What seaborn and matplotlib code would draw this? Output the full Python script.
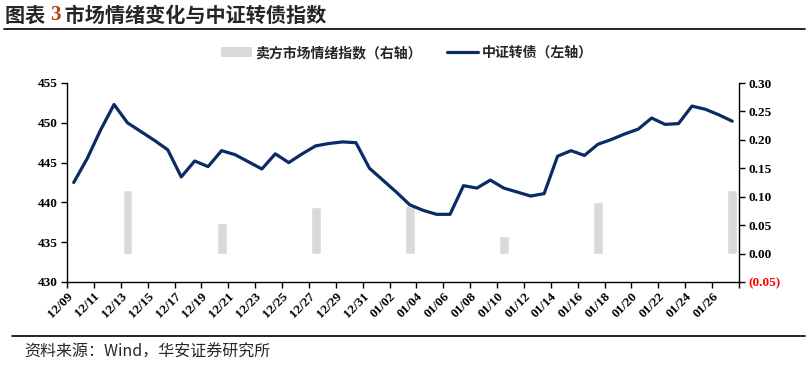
import matplotlib
matplotlib.use("Agg")
import matplotlib.pyplot as plt
import seaborn as sns
import pandas as pd
from matplotlib.patches import Patch
from matplotlib.lines import Line2D

# ---------------- data ----------------
dates = list(pd.date_range("2024-12-09", "2025-01-27").strftime("%m/%d"))
cb_index = [442.5, 445.5, 449.1, 452.3, 450.0, 448.9, 447.8, 446.6, 443.2, 445.2,
            444.5, 446.5, 446.0, 445.1, 444.2, 446.1, 445.0, 446.1, 447.1, 447.4,
            447.6, 447.5, 444.3, 442.8, 441.3, 439.7, 439.0, 438.5, 438.5, 442.1,
            441.8, 442.8, 441.8, 441.3, 440.8, 441.1, 445.8, 446.5, 445.9, 447.3,
            447.9, 448.6, 449.2, 450.6, 449.8, 449.9, 452.1, 451.7, 451.0, 450.2]
bar_dates = ["12/13", "12/20", "12/27", "01/03", "01/10", "01/17", "01/27"]
sentiment = [0.112, 0.053, 0.082, 0.083, 0.031, 0.090, 0.111]
left_ticks = [430, 435, 440, 445, 450, 455]
right_ticks = [-0.05, 0.0, 0.05, 0.10, 0.15, 0.20, 0.25, 0.30]
right_labels = ["(0.05)", "0.00", "0.05", "0.10", "0.15", "0.20", "0.25", "0.30"]

title_a = "图表 "
title_num = "3"
title_b = " 市场情绪变化与中证转债指数"
bar_name = "卖方市场情绪指数（右轴）"
line_name = "中证转债（左轴）"
source = "资料来源：Wind，华安证券研究所"

LINE_C = "#0B2A66"
BAR_C = "#D9D9D9"

sns.set_theme(style="white")
plt.rcParams["font.family"] = ["Liberation Serif", "Noto Sans CJK SC"]

fig = plt.figure(figsize=(8.09, 3.65), dpi=100)
ax = fig.add_axes([67 / 809, 1 - 282 / 365, (739 - 67) / 809, (282 - 83) / 365])

bar_df = pd.DataFrame({"date": bar_dates, "val": sentiment})
sns.barplot(data=bar_df, x="date", y="val", order=dates, color=BAR_C,
            width=0.74, saturation=1, ax=ax)
ax.set_xlabel("")
ax.set_ylabel("")

ax2 = ax.twinx()
line_df = pd.DataFrame({"x": range(len(dates)), "v": cb_index})
sns.lineplot(data=line_df, x="x", y="v", color=LINE_C, linewidth=2.3, ax=ax2,
             solid_joinstyle="round", solid_capstyle="round")
ax2.set_xlabel("")
ax2.set_ylabel("")

# right axis (bars)
ax.set_ylim(-0.05, 0.30)
ax.yaxis.tick_right()
ax.yaxis.set_label_position("right")
ax.set_yticks(right_ticks)
ax.set_yticklabels(right_labels, fontweight="bold", fontsize=9.5)
ax.tick_params(axis="y", which="both", right=True, left=False, labelright=True,
               labelleft=False, length=4, width=1, direction="out",
               colors="black", pad=3)

# left axis (line)
ax2.set_ylim(430, 455)
ax2.yaxis.tick_left()
ax2.yaxis.set_label_position("left")
ax2.set_yticks(left_ticks)
ax2.set_yticklabels([str(t) for t in left_ticks], fontweight="bold", fontsize=9.5)
ax2.tick_params(axis="y", left=True, right=False, labelleft=True, labelright=False,
                length=4, width=1, direction="out", colors="black", pad=3)

for lbl in ax.get_yticklabels():
    if lbl.get_text().startswith("("):
        lbl.set_color("#FF0000")

ax.set_xlim(-0.5, len(dates) - 0.5)
ticks = [i - 0.5 for i in range(0, len(dates) + 1, 2)]
ax.set_xticks(ticks)
ax.set_xticklabels([dates[int(t + 0.5)] if int(t + 0.5) < len(dates) - 1 else "" for t in ticks],
                   rotation=45, ha="right", rotation_mode="anchor",
                   fontweight="bold", fontsize=9.5)
ax.tick_params(axis="x", bottom=True, length=4, width=1, direction="out",
               colors="black", pad=2)
ax2.tick_params(axis="x", bottom=False, labelbottom=False)

for a in (ax, ax2):
    for s in a.spines.values():
        s.set_visible(False)
    a.grid(False)
for side in ("left", "right", "bottom"):
    ax2.spines[side].set_visible(True)
    ax2.spines[side].set_color("black")
    ax2.spines[side].set_linewidth(1.0)

# legend
handles = [Patch(facecolor=BAR_C, edgecolor="none"),
           Line2D([0], [0], color=LINE_C, linewidth=2.3)]
fig.legend(handles, [bar_name, line_name], loc="center", ncol=2,
           bbox_to_anchor=(0.503, 1 - 53 / 365), frameon=False,
           prop={"family": ["Noto Sans CJK SC"], "weight": "bold", "size": 10},
           handlelength=2.2, handletextpad=0.3, columnspacing=1.8)

# title
ty = 1 - 15 / 365
t1 = fig.text(0.006, ty, title_a, fontsize=14.5, fontweight="bold",
              family=["Noto Sans CJK SC"], va="center", ha="left")
fig.canvas.draw()
x3 = t1.get_window_extent().x1 / fig.bbox.width
t3 = fig.text(x3, ty, title_num, fontsize=15, fontweight="bold",
              family=["Liberation Serif"], color="#A8440E", va="center", ha="left")
fig.canvas.draw()
fig.text(t3.get_window_extent().x1 / fig.bbox.width, ty, title_b,
         fontsize=14.5, fontweight="bold", family=["Noto Sans CJK SC"],
         va="center", ha="left")

fig.add_artist(Line2D([4 / 809, 805 / 809], [1 - 29 / 365, 1 - 29 / 365],
                      color="black", linewidth=1.2))
fig.add_artist(Line2D([12 / 809, 805 / 809], [1 - 336 / 365, 1 - 336 / 365],
                      color="black", linewidth=1.2))
fig.text(24 / 809, 1 - 352 / 365, source, fontsize=11.5,
         family=["Noto Sans CJK SC", "Liberation Serif"], va="center", ha="left")

fig.savefig("out.png", dpi=100)
